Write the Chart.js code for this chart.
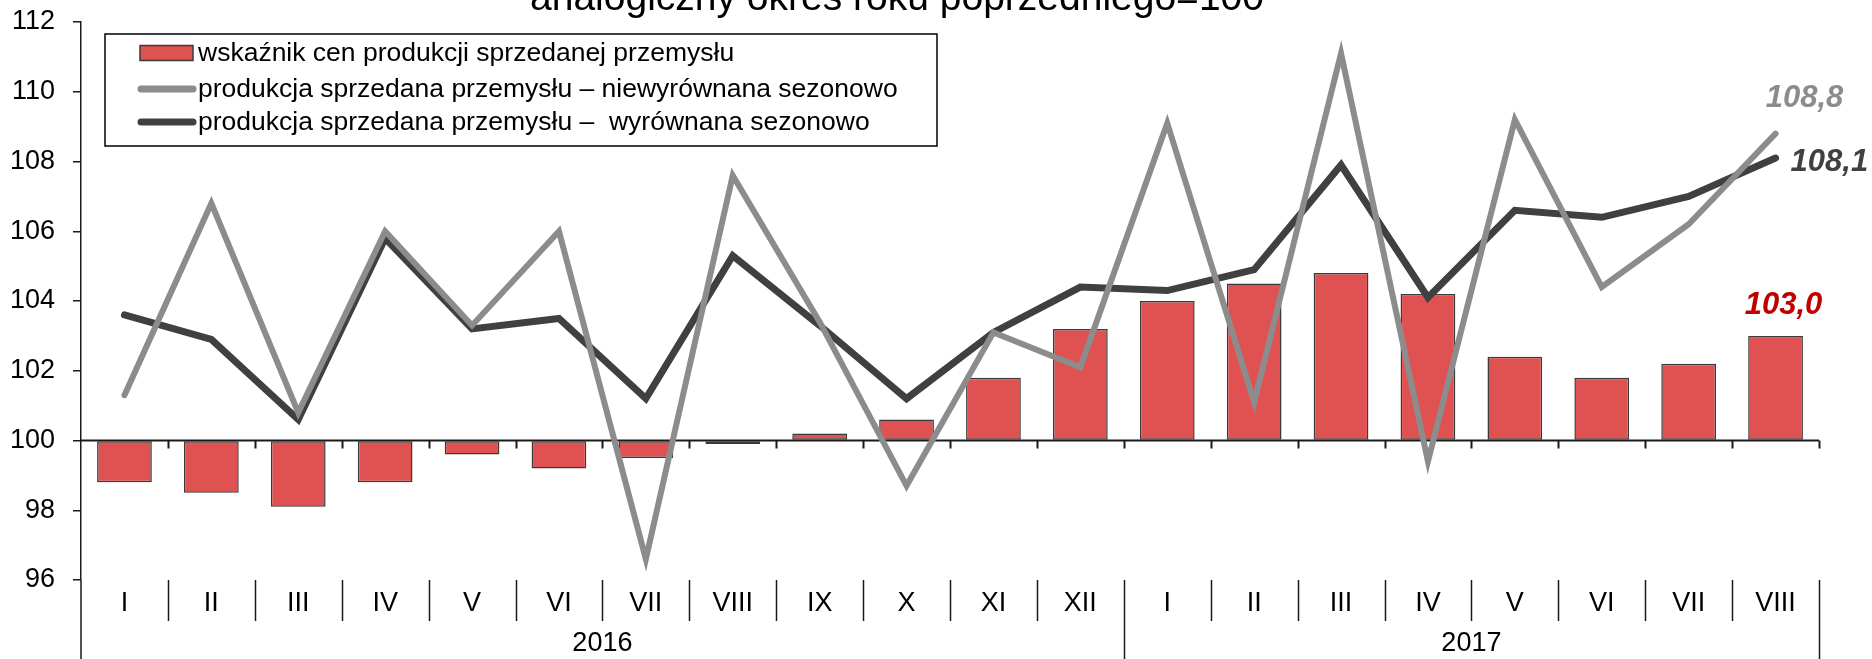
<!DOCTYPE html>
<html lang="pl">
<head>
<meta charset="utf-8">
<title>Produkcja sprzedana przemysłu</title>
<script src="https://cdn.jsdelivr.net/npm/chart.js@4.4.1/dist/chart.umd.min.js"></script>
<style>
    html, body { margin: 0; padding: 0; background: #ffffff; }
    #wrap { width: 1872px; height: 659px; }
</style>
</head>
<body>
<div id="wrap"><canvas id="chart" width="1872" height="659"></canvas></div>
<script>
// Dynamika produkcji sprzedanej i cen - okres analogiczny roku poprzedniego = 100

const months = ['I', 'II', 'III', 'IV', 'V', 'VI', 'VII', 'VIII', 'IX', 'X', 'XI', 'XII',
                'I', 'II', 'III', 'IV', 'V', 'VI', 'VII', 'VIII'];
const yearLabels = ['2016', '2017'];
const yearLengths = [12, 8];

const priceIndex = [98.8, 98.5, 98.1, 98.8, 99.6, 99.2, 99.5, 99.9, 100.2, 100.6, 101.8, 103.2,
                    104.0, 104.5, 104.8, 104.2, 102.4, 101.8, 102.2, 103.0];
const salesUnadjusted = [101.3, 106.8, 100.8, 106.0, 103.3, 106.0, 96.6, 107.6, 103.4, 98.7, 103.1, 102.1,
                         109.1, 101.1, 111.1, 99.4, 109.2, 104.4, 106.2, 108.8];
const salesAdjusted = [103.6, 102.9, 100.6, 105.8, 103.2, 103.5, 101.2, 105.3, 103.3, 101.2, 103.1, 104.4,
                       104.3, 104.9, 107.9, 104.1, 106.6, 106.4, 107.0, 108.1];

const yTicks = [96, 98, 100, 102, 104, 106, 108, 110, 112];

const titleText = 'analogiczny okres roku poprzedniego=100';
const seriesNames = [
    'wskaźnik cen produkcji sprzedanej przemysłu',
    'produkcja sprzedana przemysłu – niewyrównana sezonowo',
    'produkcja sprzedana przemysłu –  wyrównana sezonowo'
];

const FONT = "'Liberation Sans', Arial, sans-serif";
const colors = {
    bar: '#e05252',
    barBorder: '#3a3a3a',
    gray: '#8c8c8c',
    dark: '#404040',
    red: '#c00000',
    axis: '#1a1a1a'
};

function fmt(v) {
    return v.toFixed(1).replace('.', ',');
}

/**
 * Axis at 100, month/year labels and separators below the plot
 */
const categoryAxis = {
    id: 'categoryAxis',
    beforeDatasetsDraw(chart) {
        const { ctx, chartArea } = chart;
        const x = chart.scales.x;
        const y = chart.scales.y;
        const y100 = y.getPixelForValue(100);
        const step = x.getPixelForValue(1) - x.getPixelForValue(0);

        ctx.save();
        ctx.strokeStyle = colors.axis;
        ctx.lineWidth = 2;
        ctx.beginPath();
        ctx.moveTo(chartArea.left, y100);
        ctx.lineTo(chartArea.right, y100);
        for (let i = 0; i < months.length; i++) {
            const bx = Math.round(x.getPixelForValue(i) + step / 2) + 0.5;
            ctx.moveTo(bx, y100);
            ctx.lineTo(bx, y100 + 8);
        }
        ctx.stroke();
        ctx.restore();
    },
    afterDraw(chart) {
        const { ctx, chartArea } = chart;
        const x = chart.scales.x;
        const step = x.getPixelForValue(1) - x.getPixelForValue(0);
        const top = chartArea.bottom;
        const bottom = chart.height;

        ctx.save();
        ctx.strokeStyle = colors.axis;
        ctx.lineWidth = 1.5;
        ctx.beginPath();
        // left axis continues down to the bottom edge
        ctx.moveTo(chartArea.left, top);
        ctx.lineTo(chartArea.left, bottom);

        let yearEnds = [];
        let acc = 0;
        yearLengths.forEach(n => { acc += n; yearEnds.push(acc - 1); });

        for (let i = 0; i < months.length; i++) {
            const bx = Math.round(x.getPixelForValue(i) + step / 2) + 0.5;
            const long = yearEnds.includes(i);
            ctx.moveTo(bx, top);
            ctx.lineTo(bx, long ? bottom : top + 41);
        }
        ctx.stroke();

        ctx.fillStyle = '#000000';
        ctx.font = '27px ' + FONT;
        ctx.textAlign = 'center';
        ctx.textBaseline = 'middle';
        months.forEach((m, i) => {
            ctx.fillText(m, x.getPixelForValue(i), top + 24);
        });

        let start = 0;
        yearLabels.forEach((yl, k) => {
            const end = start + yearLengths[k] - 1;
            const cx = (x.getPixelForValue(start) + x.getPixelForValue(end)) / 2;
            ctx.fillText(yl, cx, top + 64);
            start = end + 1;
        });
        ctx.restore();
    }
};

/**
 * Title (cut at the top), legend box and last-value labels
 */
const decorations = {
    id: 'decorations',
    afterDraw(chart) {
        const { ctx } = chart;

        ctx.save();
        // title
        ctx.fillStyle = '#000000';
        ctx.font = '39px ' + FONT;
        ctx.textAlign = 'center';
        ctx.textBaseline = 'alphabetic';
        ctx.fillText(titleText, 897, 10);

        // legend
        const box = { left: 105, top: 34, right: 937, bottom: 146 };
        ctx.fillStyle = '#ffffff';
        ctx.fillRect(box.left, box.top, box.right - box.left, box.bottom - box.top);
        ctx.strokeStyle = '#000000';
        ctx.lineWidth = 1.5;
        ctx.strokeRect(box.left, box.top, box.right - box.left, box.bottom - box.top);

        const rows = [53, 89, 122];
        const ds = chart.data.datasets;

        ctx.fillStyle = colors.bar;
        ctx.fillRect(140, rows[0] - 7.5, 53, 15);
        ctx.strokeStyle = colors.barBorder;
        ctx.lineWidth = 1.5;
        ctx.strokeRect(140, rows[0] - 7.5, 53, 15);

        ctx.lineCap = 'round';
        ctx.lineWidth = 7;
        [1, 2].forEach(k => {
            ctx.strokeStyle = ds[k].borderColor;
            ctx.beginPath();
            ctx.moveTo(141, rows[k]);
            ctx.lineTo(193, rows[k]);
            ctx.stroke();
        });

        ctx.fillStyle = '#000000';
        ctx.font = '26.5px ' + FONT;
        ctx.textAlign = 'left';
        ctx.textBaseline = 'middle';
        ds.forEach((d, k) => ctx.fillText(d.label, 198, rows[k] + 1));

        // last values
        ctx.font = 'italic bold 31px ' + FONT;
        ctx.textBaseline = 'alphabetic';
        const last = months.length - 1;

        const barEl = chart.getDatasetMeta(0).data[last];
        ctx.fillStyle = colors.red;
        ctx.textAlign = 'center';
        ctx.fillText(fmt(priceIndex[last]), barEl.x + 8, barEl.y - 22);

        const grayEl = chart.getDatasetMeta(1).data[last];
        ctx.fillStyle = colors.gray;
        ctx.fillText(fmt(salesUnadjusted[last]), grayEl.x + 29, grayEl.y - 27);

        const darkEl = chart.getDatasetMeta(2).data[last];
        ctx.fillStyle = colors.dark;
        ctx.textAlign = 'left';
        ctx.fillText(fmt(salesAdjusted[last]), darkEl.x + 15, darkEl.y + 13);
        ctx.restore();
    }
};

const ctx = document.getElementById('chart');

new Chart(ctx, {
    data: {
        labels: months,
        datasets: [
            {
                type: 'bar',
                label: seriesNames[0],
                data: priceIndex,
                base: 100,
                backgroundColor: colors.bar,
                borderColor: colors.barBorder,
                borderWidth: 1.5,
                borderSkipped: false,
                barPercentage: 0.63,
                categoryPercentage: 1,
                order: 3
            },
            {
                type: 'line',
                label: seriesNames[1],
                data: salesUnadjusted,
                borderColor: colors.gray,
                borderWidth: 6,
                borderCapStyle: 'round',
                borderJoinStyle: 'miter',
                pointRadius: 0,
                tension: 0,
                order: 1
            },
            {
                type: 'line',
                label: seriesNames[2],
                data: salesAdjusted,
                borderColor: colors.dark,
                borderWidth: 7,
                borderCapStyle: 'round',
                borderJoinStyle: 'miter',
                pointRadius: 0,
                tension: 0,
                order: 2
            }
        ]
    },
    options: {
        responsive: false,
        animation: false,
        events: [],
        layout: {
            padding: { left: 0, right: 53, top: 22, bottom: 79 }
        },
        plugins: {
            legend: { display: false },
            title: { display: false },
            tooltip: { enabled: false }
        },
        scales: {
            x: {
                display: false,
                offset: true
            },
            y: {
                min: yTicks[0],
                max: yTicks[yTicks.length - 1],
                afterBuildTicks: function(scale) {
                    scale.ticks = yTicks.map(v => ({ value: v }));
                },
                afterFit: function(scale) {
                    // fixed axis width, no extra room for half labels at the ends
                    scale.width = 81;
                    scale.paddingTop = 0;
                    scale.paddingBottom = 0;
                },
                grid: {
                    drawOnChartArea: false,
                    drawTicks: true,
                    tickLength: 8,
                    color: colors.axis,
                    lineWidth: 1.5
                },
                border: {
                    display: true,
                    color: colors.axis,
                    width: 1.5
                },
                ticks: {
                    color: '#000000',
                    padding: 18,
                    font: { family: FONT, size: 27 }
                }
            }
        }
    },
    plugins: [categoryAxis, decorations]
});
</script>
</body>
</html>
